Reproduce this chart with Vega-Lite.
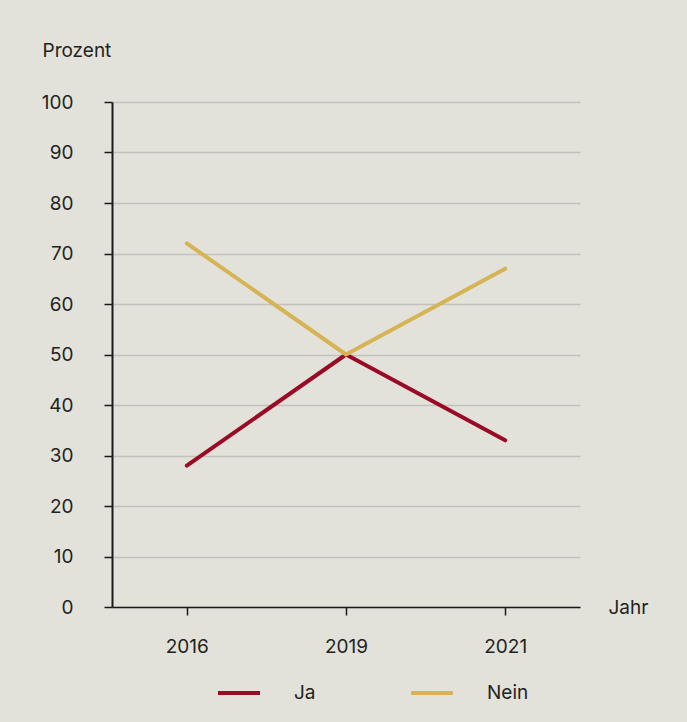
{
  "$schema": "https://vega.github.io/schema/vega-lite/v6.json",
  "width": 468,
  "height": 505,
  "autosize": {"type": "none"},
  "padding": {"left": 112, "top": 102, "right": 107, "bottom": 115},
  "background": "#e3e2da",
  "config": {
    "font": "Inter",
    "view": {"stroke": null},
    "axis": {"labelFont": "Inter", "titleFont": "Inter", "labelColor": "#222222", "titleColor": "#222222", "labelFontSize": 19, "titleFontSize": 19, "titleFontWeight": "normal"},
    "legend": {"labelFont": "Inter", "labelFontSize": 19, "labelColor": "#222222"}
  },
  "data": {
    "values": [
      {"Jahr": "2016", "Antwort": "Ja", "Prozent": 28},
      {"Jahr": "2019", "Antwort": "Ja", "Prozent": 50},
      {"Jahr": "2021", "Antwort": "Ja", "Prozent": 33},
      {"Jahr": "2016", "Antwort": "Nein", "Prozent": 72},
      {"Jahr": "2019", "Antwort": "Nein", "Prozent": 50},
      {"Jahr": "2021", "Antwort": "Nein", "Prozent": 67}
    ]
  },
  "mark": {"type": "line", "strokeWidth": 4, "strokeCap": "round", "strokeJoin": "round"},
  "encoding": {
    "x": {
      "field": "Jahr", "type": "ordinal",
      "scale": {"type": "point", "padding": 0.47},
      "axis": {
        "title": "Jahr", "titleX": 496, "titleY": 0, "titleAlign": "left", "titleBaseline": "middle", "titleAngle": 0,
        "labelAngle": 0, "labelPadding": 22, "tickSize": 8, "tickColor": "#1a1a1a", "tickWidth": 1.5,
        "domainColor": "#1a1a1a", "domainWidth": 1.5, "grid": false
      }
    },
    "y": {
      "field": "Prozent", "type": "quantitative",
      "scale": {"domain": [0, 100]},
      "axis": {
        "title": "Prozent", "titleAngle": 0, "titleX": -70, "titleY": -52, "titleAlign": "left", "titleBaseline": "middle",
        "values": [0, 10, 20, 30, 40, 50, 60, 70, 80, 90, 100],
        "labelPadding": 31, "tickSize": 8, "tickColor": "#1a1a1a", "tickWidth": 1.5,
        "domainColor": "#1a1a1a", "domainWidth": 2,
        "grid": true, "gridColor": "#c2c1bc", "gridWidth": 1.5
      }
    },
    "color": {
      "field": "Antwort", "type": "nominal",
      "scale": {"domain": ["Ja", "Nein"], "range": ["#9a0a25", "#d6b455"]},
      "legend": {
        "title": null, "orient": "none", "direction": "horizontal",
        "legendX": 104, "legendY": 568,
        "symbolType": "stroke", "symbolSize": 1764, "symbolStrokeWidth": 4,
        "labelOffset": 32, "columnPadding": 87, "padding": 0
      }
    }
  }
}
